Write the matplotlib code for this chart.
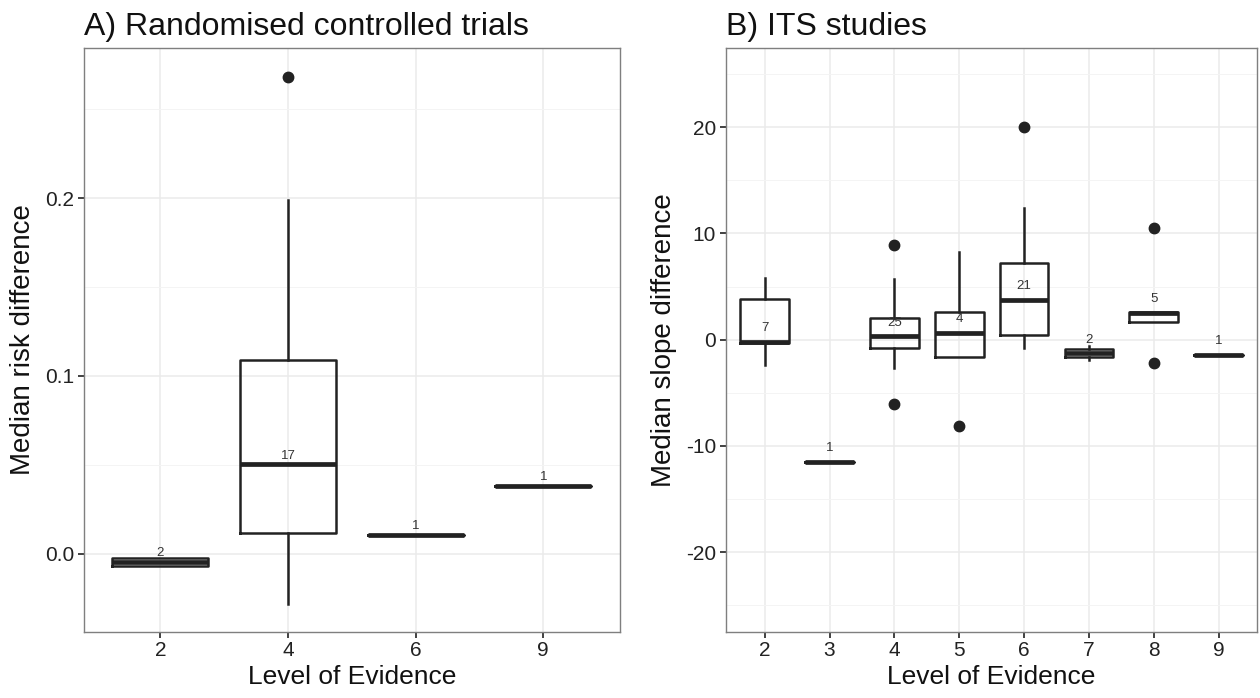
import numpy as np
from matplotlib import pyplot as plt
from matplotlib.ticker import MultipleLocator

plt.rcParams['font.family'] = ['Liberation Sans', 'DejaVu Sans']
plt.rcParams['axes.unicode_minus'] = False

# Panel A: randomised controlled trials
rct_levels = ['2', '4', '6', '9']
rct_counts = [2, 17, 1, 1]
rct_whislo = [-0.0068, -0.028, 0.0108, 0.0384]
rct_q1 = [-0.0068, 0.0115, 0.0108, 0.0384]
rct_med = [-0.0043, 0.0503, 0.0108, 0.0384]
rct_q3 = [-0.0022, 0.109, 0.0108, 0.0384]
rct_whishi = [-0.0022, 0.199, 0.0108, 0.0384]
rct_fliers = [[], [0.268], [], []]

# Panel B: ITS studies
its_levels = ['2', '3', '4', '5', '6', '7', '8', '9']
its_counts = [7, 1, 25, 4, 21, 2, 5, 1]
its_whislo = [-2.4, -11.55, -2.7, -1.6, -0.78, -1.9, 1.67, -1.45]
its_q1 = [-0.33, -11.55, -0.74, -1.6, 0.41, -1.6, 1.67, -1.45]
its_med = [-0.19, -11.55, 0.3, 0.67, 3.72, -1.3, 2.5, -1.45]
its_q3 = [3.8, -11.55, 2.0, 2.64, 7.2, -0.85, 2.62, -1.45]
its_whishi = [5.84, -11.55, 5.72, 8.25, 12.4, -0.63, 2.62, -1.45]
its_fliers = [[], [], [8.96, -6.1], [-8.1], [20.0], [], [10.5, -2.2], []]


def make_stats(lo, q1, med, q3, hi, fl):
    out = []
    for i in range(len(med)):
        out.append({'whislo': lo[i], 'q1': q1[i], 'med': med[i], 'q3': q3[i],
                    'whishi': hi[i], 'fliers': np.array(fl[i])})
    return out


def draw_panel(ax, levels, stats, counts, meds, ylim, offset, title, ylabel):
    pos = np.arange(1, len(levels) + 1)
    ax.bxp(stats, positions=pos, widths=0.75, showcaps=False,
           boxprops=dict(color='#222222', linewidth=1.8),
           whiskerprops=dict(color='#222222', linewidth=1.8),
           medianprops=dict(color='#222222', linewidth=3.4, solid_capstyle='butt'),
           flierprops=dict(marker='o', markersize=7.5, markerfacecolor='#222222',
                           markeredgecolor='#222222'),
           zorder=3)
    for p, c, m in zip(pos, counts, meds):
        ax.annotate(str(c), (p, m), xytext=(0, offset), textcoords='offset points',
                    ha='center', va='center', fontsize=9.5, color='#333333', zorder=4)
    ax.set_xlim(0.4, len(levels) + 0.6)
    ax.set_ylim(*ylim)
    ax.set_xticks(pos)
    ax.set_xticklabels(levels)
    ax.set_axisbelow(True)
    ax.grid(which='major', color='#EBEBEB', linewidth=1.1)
    ax.grid(which='minor', axis='y', color='#F4F4F4', linewidth=0.7)
    for s in ax.spines.values():
        s.set_color('#7F7F7F')
        s.set_linewidth(1.0)
    ax.tick_params(axis='both', which='major', labelsize=15, length=4, width=1.3,
                   color='#333333', labelcolor='#222222', pad=3)
    ax.tick_params(axis='both', which='minor', length=0)
    ax.set_xlabel('Level of Evidence', fontsize=19, color='#111111', labelpad=3)
    ax.set_ylabel(ylabel, fontsize=20, color='#111111', labelpad=6)
    ax.set_title(title, fontsize=23, loc='left', color='#111111', pad=9)


fig = plt.figure(figsize=(12.6, 6.98), dpi=100)
ax1 = fig.add_axes([0.0664, 0.095, 0.4256, 0.8367])
ax2 = fig.add_axes([0.576, 0.095, 0.422, 0.8367])

draw_panel(ax1, rct_levels,
           make_stats(rct_whislo, rct_q1, rct_med, rct_q3, rct_whishi, rct_fliers),
           rct_counts, rct_med, (-0.0437, 0.2845), 6,
           'A) Randomised controlled trials', 'Median risk difference')
ax1.yaxis.set_major_locator(MultipleLocator(0.1))
ax1.yaxis.set_minor_locator(MultipleLocator(0.05))
ax1.set_yticks([0.0, 0.1, 0.2])
ax1.set_yticklabels(['0.0', '0.1', '0.2'])

draw_panel(ax2, its_levels,
           make_stats(its_whislo, its_q1, its_med, its_q3, its_whishi, its_fliers),
           its_counts, its_med, (-27.5, 27.5), 10,
           'B) ITS studies', 'Median slope difference')
ax2.yaxis.set_major_locator(MultipleLocator(10))
ax2.yaxis.set_minor_locator(MultipleLocator(5))

fig.savefig('out.png', dpi=100)
